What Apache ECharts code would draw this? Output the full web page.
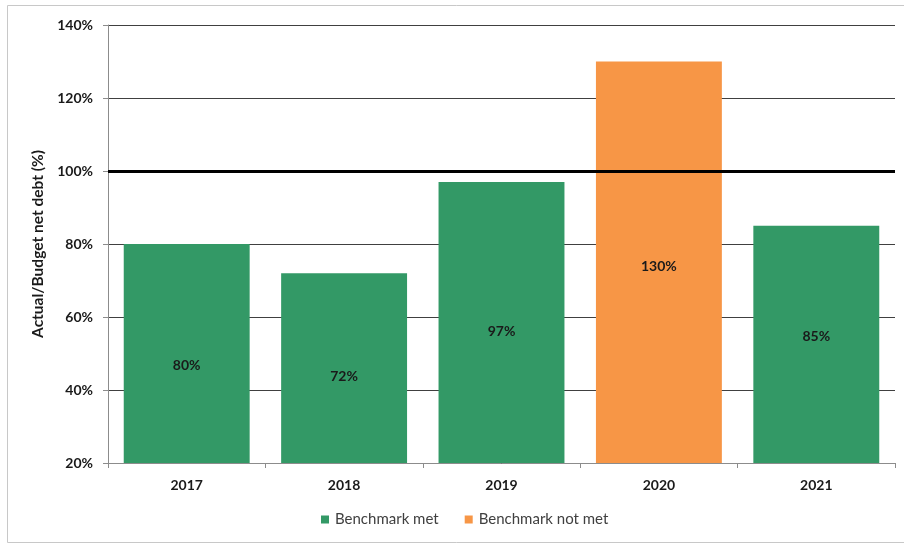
<!DOCTYPE html>
<html>
<head>
<meta charset="utf-8">
<script src="https://cdn.jsdelivr.net/npm/echarts@6/dist/echarts.min.js"></script>
<style>
  html, body { margin: 0; padding: 0; background: #fff; }
  #chart { width: 904px; height: 545px; }
</style>
</head>
<body>
<div id="chart"></div>
<script>
// Actual vs budget net debt, by year
const years = ['2017', '2018', '2019', '2020', '2021'];
const benchmarkMet = [80, 72, 97, null, 85];
const benchmarkNotMet = [null, null, null, 130, null];
const yTicks = [20, 40, 60, 80, 100, 120, 140];
const benchmarkLevel = 100;

// hand-placed vertical nudges for the value labels (px, per year)
const labelNudge = [12, 8, 9, 4, -8];

const FONT = 'Lato, "Liberation Sans", sans-serif';
const GREEN = '#339966';
const ORANGE = '#F79646';

const chart = echarts.init(document.getElementById('chart'));

const valueLabel = {
  show: true,
  position: 'inside',
  formatter: p => p.value + '%',
  color: '#1a1a1a',
  fontFamily: FONT,
  fontWeight: 'bold',
  fontSize: 14
};

function withLabels(values) {
  return values.map((v, i) => v == null ? null : {
    value: v,
    label: { offset: [0, labelNudge[i]] }
  });
}

chart.setOption({
  animation: false,
  backgroundColor: '#fff',
  graphic: [{
    type: 'rect',
    shape: { x: 7.5, y: 5.5, width: 910, height: 537 },
    style: { fill: 'none', stroke: '#c8c8c8', lineWidth: 1 },
    silent: true
  }],
  grid: { left: 108, right: 9, top: 25, bottom: 82 },
  legend: {
    bottom: 13,
    left: 316,
    itemWidth: 8,
    itemHeight: 8,
    itemGap: 26,
    icon: 'rect',
    textStyle: { fontFamily: FONT, fontSize: 15, color: '#404040', padding: [0, 0, 0, 1] },
    data: ['Benchmark met', 'Benchmark not met']
  },
  xAxis: {
    type: 'category',
    data: years,
    axisLine: { lineStyle: { color: '#8c8c8c', width: 1 } },
    axisTick: { show: true, alignWithLabel: false, length: 5, lineStyle: { color: '#8c8c8c' } },
    axisLabel: {
      margin: 15,
      color: '#1a1a1a',
      fontFamily: FONT,
      fontWeight: 'bold',
      fontSize: 14
    }
  },
  yAxis: {
    type: 'value',
    min: yTicks[0],
    max: yTicks[yTicks.length - 1],
    interval: 20,
    name: 'Actual/Budget net debt (%)',
    nameLocation: 'middle',
    nameRotate: 90,
    nameGap: 58,
    nameTextStyle: { fontFamily: FONT, fontWeight: 'bold', fontSize: 15.5, color: '#1a1a1a' },
    axisLine: { show: true, lineStyle: { color: '#8c8c8c', width: 1 } },
    axisTick: { show: true, length: 5, lineStyle: { color: '#8c8c8c' } },
    axisLabel: {
      margin: 15,
      formatter: v => v + '%',
      color: '#1a1a1a',
      fontFamily: FONT,
      fontWeight: 'bold',
      fontSize: 14
    },
    splitLine: { show: true, lineStyle: { color: '#404040', width: 1.2 } }
  },
  series: [
    {
      name: 'Benchmark met',
      type: 'bar',
      stack: 'debt',
      barCategoryGap: '20%',
      itemStyle: { color: GREEN },
      label: valueLabel,
      data: withLabels(benchmarkMet),
      z: 2
    },
    {
      name: 'Benchmark not met',
      type: 'bar',
      stack: 'debt',
      barCategoryGap: '20%',
      itemStyle: { color: ORANGE },
      label: valueLabel,
      data: withLabels(benchmarkNotMet),
      z: 2,
      markLine: {
        silent: true,
        symbol: ['none', 'none'],
        label: { show: false },
        lineStyle: { color: '#000', width: 3, type: 'solid' },
        data: [{ yAxis: benchmarkLevel }],
        z: 5
      }
    }
  ]
});
</script>
</body>
</html>
